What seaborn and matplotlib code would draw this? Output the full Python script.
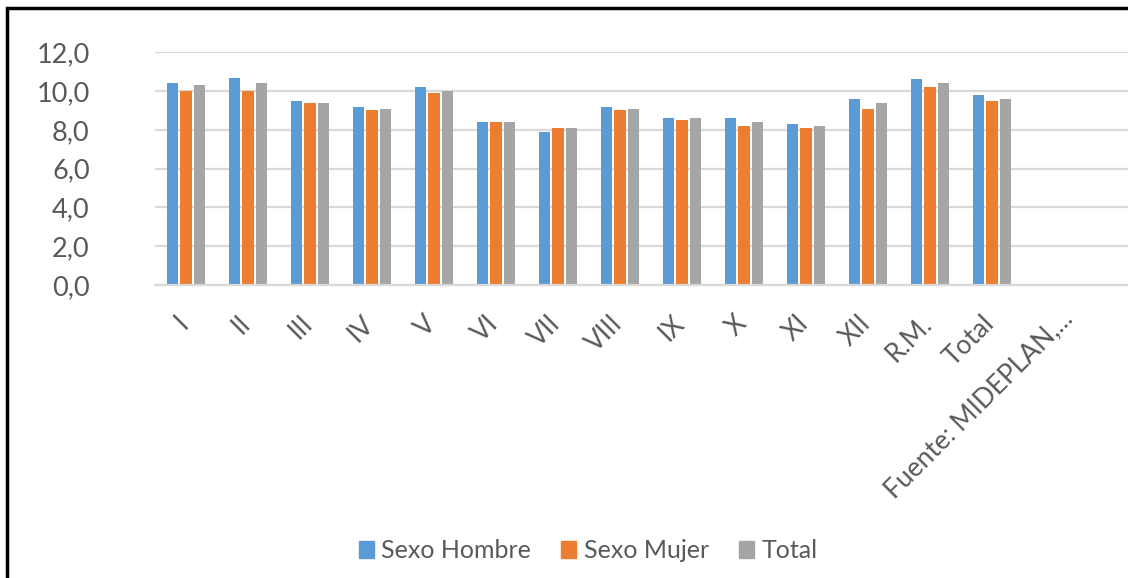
import numpy as np
import pandas as pd
import matplotlib
matplotlib.use("Agg")
import matplotlib.pyplot as plt
import matplotlib.transforms as mtransforms
from matplotlib.patches import Rectangle
import seaborn as sns

# Average years of schooling by region and sex
regions = ["I", "II", "III", "IV", "V", "VI", "VII", "VIII", "IX", "X", "XI",
           "XII", "R.M.", "Total", "Fuente: MIDEPLAN,..."]
sexo_hombre = [10.4, 10.7, 9.5, 9.2, 10.2, 8.4, 7.9, 9.2, 8.6, 8.6, 8.3, 9.6, 10.6, 9.8, np.nan]
sexo_mujer = [10.0, 10.0, 9.4, 9.0, 9.9, 8.4, 8.1, 9.0, 8.5, 8.2, 8.1, 9.1, 10.2, 9.5, np.nan]
total = [10.3, 10.4, 9.4, 9.1, 10.0, 8.4, 8.1, 9.1, 8.6, 8.4, 8.2, 9.4, 10.4, 9.6, np.nan]

series_names = ["Sexo Hombre", "Sexo Mujer", "Total"]
series_colors = ["#5B9BD5", "#ED7D31", "#A5A5A5"]
y_ticks = [0, 2, 4, 6, 8, 10, 12]

df = pd.DataFrame({
    "region": regions * 3,
    "serie": np.repeat(series_names, len(regions)),
    "valor": sexo_hombre + sexo_mujer + total,
})

sns.set_theme(style="white")
plt.rcParams["font.family"] = ["Lato", "DejaVu Sans"]

W, H = 1128, 578
fig = plt.figure(figsize=(W / 100, H / 100), dpi=100)
ax = fig.add_axes([155 / W, 1 - 285 / H, (W - 155) / W, (285 - 52.3) / H])

sns.barplot(data=df, x="region", y="valor", hue="serie", order=regions,
            hue_order=series_names, palette=series_colors, errorbar=None,
            width=0.64, gap=0.15, saturation=1, ax=ax, legend=False,
            edgecolor="none")

ax.set_xlim(-0.5, -0.5 + (W - 155) / 62)
ax.set_ylim(0, 12)
ax.set_yticks(y_ticks)
ax.set_yticklabels([f"{v:.1f}".replace(".", ",") for v in y_ticks])
ax.yaxis.grid(True, color="#D9D9D9", linewidth=1.6)
ax.set_axisbelow(True)
for side in ["top", "right", "left"]:
    ax.spines[side].set_visible(False)
ax.spines["bottom"].set_color("#D9D9D9")
ax.spines["bottom"].set_linewidth(1.6)
ax.set_xlabel("")
ax.set_ylabel("")

ax.tick_params(axis="y", length=0, pad=47, labelsize=19.5, labelcolor="#595959")
ax.tick_params(axis="x", length=0, pad=25, labelsize=19, labelcolor="#595959")
labels = ax.get_xticklabels()
for i, lbl in enumerate(labels):
    # the long source label sits a little further right and higher
    dx, dy = (-1.5, 0) if i < len(labels) - 1 else (15, 5)
    offset = mtransforms.ScaledTranslation(dx / 100, dy / 100, fig.dpi_scale_trans)
    lbl.set_rotation(45)
    lbl.set_ha("right")
    lbl.set_va("center")
    lbl.set_rotation_mode("anchor")
    lbl.set_transform(lbl.get_transform() + offset)

handles = [Rectangle((0, 0), 1, 1, color=c) for c in series_colors]
fig.legend(handles, series_names, loc="center", bbox_to_anchor=(588 / W, 1 - 551 / H),
           ncol=3, frameon=False, fontsize=18, labelcolor="#595959",
           handlelength=0.6, handleheight=0.65, handletextpad=0.3,
           columnspacing=1.2)

# outer chart frame
frame = Rectangle((7 / W, -0.1), 1.2, 1.1 - 8.5 / H, transform=fig.transFigure,
                  fill=False, edgecolor="black", linewidth=2.5, clip_on=False)
fig.patches.append(frame)

fig.savefig("out.png", dpi=100, facecolor="white")
